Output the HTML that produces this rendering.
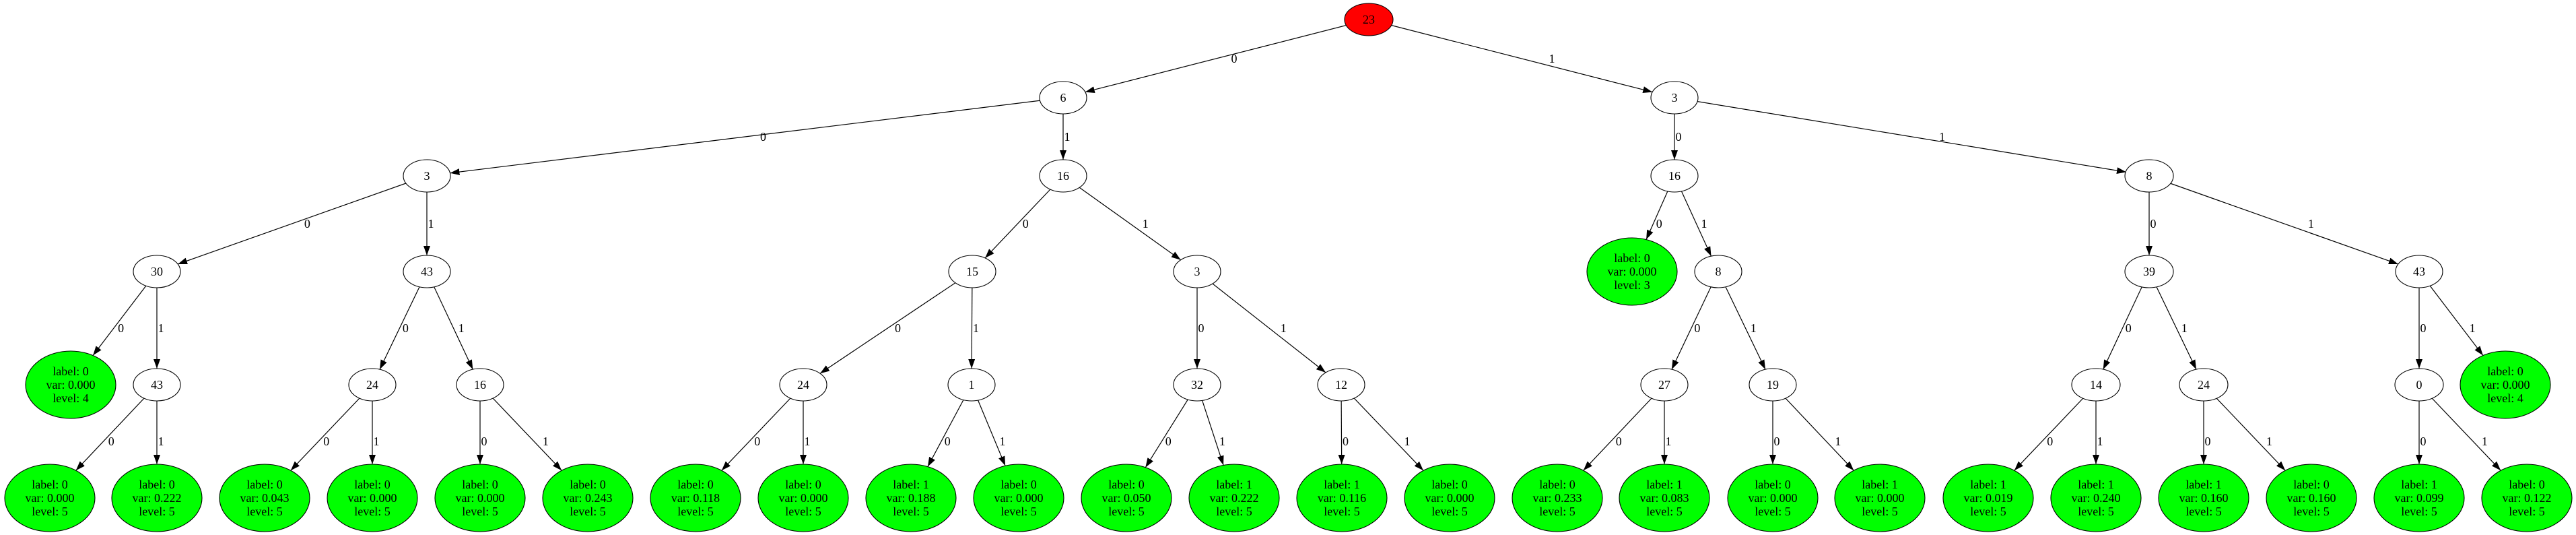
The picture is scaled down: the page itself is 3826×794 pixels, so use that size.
<!DOCTYPE html>
<html><head><meta charset="utf-8">
<style>
html,body{margin:0;padding:0;background:#fff;}
svg{display:block;font-family:"Liberation Serif","DejaVu Serif",serif;}
ellipse{stroke:#000;stroke-width:1.1;}
.n{fill:#fff;}
.g{fill:#00ff00;}
.r{fill:#ff0000;}
line{stroke:#000;stroke-width:1.2;}
text{font-size:18px;fill:#000;text-anchor:middle;}
</style></head>
<body>
<svg id="s" width="3826" height="794" viewBox="0 0 3826 794" xmlns="http://www.w3.org/2000/svg">
<defs><marker id="ah" markerWidth="14" markerHeight="10" refX="14" refY="5" orient="auto" markerUnits="userSpaceOnUse"><path d="M0,0 L14,5 L0,10 z" fill="#000"/></marker></defs>
<g id="edges">
<g class="e"><line x1="2033" y1="29" x2="1579" y2="145"/><text>0</text></g>
<g class="e"><line x1="2033" y1="29" x2="2487" y2="145"/><text>1</text></g>
<g class="e"><line x1="1579" y1="145" x2="634" y2="261"/><text>0</text></g>
<g class="e"><line x1="1579" y1="145" x2="1579" y2="261"/><text>1</text></g>
<g class="e"><line x1="2487" y1="145" x2="2487" y2="261"/><text>0</text></g>
<g class="e"><line x1="2487" y1="145" x2="3192" y2="261"/><text>1</text></g>
<g class="e"><line x1="634" y1="261" x2="233" y2="403"/><text>0</text></g>
<g class="e"><line x1="634" y1="261" x2="634" y2="403"/><text>1</text></g>
<g class="e"><line x1="1579" y1="261" x2="1444" y2="403"/><text>0</text></g>
<g class="e"><line x1="1579" y1="261" x2="1778" y2="403"/><text>1</text></g>
<g class="e" data-leaf="1"><line x1="2487" y1="261" x2="2424" y2="403"/><text>0</text></g>
<g class="e"><line x1="2487" y1="261" x2="2552" y2="403"/><text>1</text></g>
<g class="e"><line x1="3192" y1="261" x2="3192" y2="403"/><text>0</text></g>
<g class="e"><line x1="3192" y1="261" x2="3593" y2="403"/><text>1</text></g>
<g class="e" data-leaf="1"><line x1="233" y1="403" x2="105" y2="571"/><text>0</text></g>
<g class="e"><line x1="233" y1="403" x2="233" y2="571"/><text>1</text></g>
<g class="e"><line x1="634" y1="403" x2="553" y2="571"/><text>0</text></g>
<g class="e"><line x1="634" y1="403" x2="713" y2="571"/><text>1</text></g>
<g class="e"><line x1="1444" y1="403" x2="1193" y2="571"/><text>0</text></g>
<g class="e"><line x1="1444" y1="403" x2="1443" y2="571"/><text>1</text></g>
<g class="e"><line x1="1778" y1="403" x2="1778" y2="571"/><text>0</text></g>
<g class="e"><line x1="1778" y1="403" x2="1992" y2="571"/><text>1</text></g>
<g class="e"><line x1="2552" y1="403" x2="2472" y2="571"/><text>0</text></g>
<g class="e"><line x1="2552" y1="403" x2="2633" y2="571"/><text>1</text></g>
<g class="e"><line x1="3192" y1="403" x2="3113" y2="571"/><text>0</text></g>
<g class="e"><line x1="3192" y1="403" x2="3273" y2="571"/><text>1</text></g>
<g class="e"><line x1="3593" y1="403" x2="3593" y2="571"/><text>0</text></g>
<g class="e" data-leaf="1"><line x1="3593" y1="403" x2="3721" y2="571"/><text>1</text></g>
<g class="e" data-leaf="1"><line x1="233" y1="571" x2="74" y2="739"/><text>0</text></g>
<g class="e" data-leaf="1"><line x1="233" y1="571" x2="233" y2="739"/><text>1</text></g>
<g class="e" data-leaf="1"><line x1="553" y1="571" x2="393" y2="739"/><text>0</text></g>
<g class="e" data-leaf="1"><line x1="553" y1="571" x2="553" y2="739"/><text>1</text></g>
<g class="e" data-leaf="1"><line x1="713" y1="571" x2="713" y2="739"/><text>0</text></g>
<g class="e" data-leaf="1"><line x1="713" y1="571" x2="873" y2="739"/><text>1</text></g>
<g class="e" data-leaf="1"><line x1="1193" y1="571" x2="1033" y2="739"/><text>0</text></g>
<g class="e" data-leaf="1"><line x1="1193" y1="571" x2="1193" y2="739"/><text>1</text></g>
<g class="e" data-leaf="1"><line x1="1443" y1="571" x2="1353" y2="739"/><text>0</text></g>
<g class="e" data-leaf="1"><line x1="1443" y1="571" x2="1513" y2="739"/><text>1</text></g>
<g class="e" data-leaf="1"><line x1="1778" y1="571" x2="1673" y2="739"/><text>0</text></g>
<g class="e" data-leaf="1"><line x1="1778" y1="571" x2="1833" y2="739"/><text>1</text></g>
<g class="e" data-leaf="1"><line x1="1992" y1="571" x2="1993" y2="739"/><text>0</text></g>
<g class="e" data-leaf="1"><line x1="1992" y1="571" x2="2153" y2="739"/><text>1</text></g>
<g class="e" data-leaf="1"><line x1="2472" y1="571" x2="2313" y2="739"/><text>0</text></g>
<g class="e" data-leaf="1"><line x1="2472" y1="571" x2="2472" y2="739"/><text>1</text></g>
<g class="e" data-leaf="1"><line x1="2633" y1="571" x2="2633" y2="739"/><text>0</text></g>
<g class="e" data-leaf="1"><line x1="2633" y1="571" x2="2792" y2="739"/><text>1</text></g>
<g class="e" data-leaf="1"><line x1="3113" y1="571" x2="2953" y2="739"/><text>0</text></g>
<g class="e" data-leaf="1"><line x1="3113" y1="571" x2="3113" y2="739"/><text>1</text></g>
<g class="e" data-leaf="1"><line x1="3273" y1="571" x2="3273" y2="739"/><text>0</text></g>
<g class="e" data-leaf="1"><line x1="3273" y1="571" x2="3433" y2="739"/><text>1</text></g>
<g class="e" data-leaf="1"><line x1="3593" y1="571" x2="3593" y2="739"/><text>0</text></g>
<g class="e" data-leaf="1"><line x1="3593" y1="571" x2="3753" y2="739"/><text>1</text></g>
</g>

<!-- internal nodes -->
<ellipse class="r" cx="2033" cy="29" rx="36" ry="24"/><text x="2033" y="35">23</text>
<ellipse class="n" cx="1579" cy="145" rx="35" ry="24"/><text x="1579" y="151">6</text>
<ellipse class="n" cx="2487" cy="145" rx="35" ry="24"/><text x="2487" y="151">3</text>
<ellipse class="n" cx="634" cy="261" rx="35" ry="24"/><text x="634" y="267">3</text>
<ellipse class="n" cx="1579" cy="261" rx="35" ry="24"/><text x="1579" y="267">16</text>
<ellipse class="n" cx="2487" cy="261" rx="35" ry="24"/><text x="2487" y="267">16</text>
<ellipse class="n" cx="3192" cy="261" rx="36" ry="24"/><text x="3192" y="267">8</text>
<ellipse class="n" cx="233" cy="403" rx="35" ry="24"/><text x="233" y="409">30</text>
<ellipse class="n" cx="634" cy="403" rx="35" ry="24"/><text x="634" y="409">43</text>
<ellipse class="n" cx="1444" cy="403" rx="35" ry="24"/><text x="1444" y="409">15</text>
<ellipse class="n" cx="1778" cy="403" rx="35" ry="24"/><text x="1778" y="409">3</text>
<ellipse class="n" cx="2552" cy="403" rx="35" ry="24"/><text x="2552" y="409">8</text>
<ellipse class="n" cx="3192" cy="403" rx="36" ry="24"/><text x="3192" y="409">39</text>
<ellipse class="n" cx="3593" cy="403" rx="35" ry="24"/><text x="3593" y="409">43</text>
<ellipse class="n" cx="233" cy="571" rx="35" ry="24"/><text x="233" y="577">43</text>
<ellipse class="n" cx="553" cy="571" rx="35" ry="24"/><text x="553" y="577">24</text>
<ellipse class="n" cx="713" cy="571" rx="35" ry="24"/><text x="713" y="577">16</text>
<ellipse class="n" cx="1193" cy="571" rx="35" ry="24"/><text x="1193" y="577">24</text>
<ellipse class="n" cx="1443" cy="571" rx="35" ry="24"/><text x="1443" y="577">1</text>
<ellipse class="n" cx="1778" cy="571" rx="35" ry="24"/><text x="1778" y="577">32</text>
<ellipse class="n" cx="1992" cy="571" rx="35" ry="24"/><text x="1992" y="577">12</text>
<ellipse class="n" cx="2472" cy="571" rx="35" ry="24"/><text x="2472" y="577">27</text>
<ellipse class="n" cx="2633" cy="571" rx="35" ry="24"/><text x="2633" y="577">19</text>
<ellipse class="n" cx="3113" cy="571" rx="36" ry="24"/><text x="3113" y="577">14</text>
<ellipse class="n" cx="3273" cy="571" rx="36" ry="24"/><text x="3273" y="577">24</text>
<ellipse class="n" cx="3593" cy="571" rx="36" ry="24"/><text x="3593" y="577">0</text>

<!-- leaves -->
<g><ellipse class="g" cx="2424" cy="403" rx="67" ry="50"/><text x="2424" y="389">label: 0</text><text x="2424" y="409">var: 0.000</text><text x="2424" y="429">level: 3</text></g>
<g><ellipse class="g" cx="105" cy="571" rx="67" ry="50"/><text x="105" y="557">label: 0</text><text x="105" y="577">var: 0.000</text><text x="105" y="597">level: 4</text></g>
<g><ellipse class="g" cx="3721" cy="571" rx="67" ry="50"/><text x="3721" y="557">label: 0</text><text x="3721" y="577">var: 0.000</text><text x="3721" y="597">level: 4</text></g>

<g><ellipse class="g" cx="74" cy="739" rx="67" ry="50"/><text x="74" y="725">label: 0</text><text x="74" y="745">var: 0.000</text><text x="74" y="765">level: 5</text></g>
<g><ellipse class="g" cx="233" cy="739" rx="67" ry="50"/><text x="233" y="725">label: 0</text><text x="233" y="745">var: 0.222</text><text x="233" y="765">level: 5</text></g>
<g><ellipse class="g" cx="393" cy="739" rx="67" ry="50"/><text x="393" y="725">label: 0</text><text x="393" y="745">var: 0.043</text><text x="393" y="765">level: 5</text></g>
<g><ellipse class="g" cx="553" cy="739" rx="67" ry="50"/><text x="553" y="725">label: 0</text><text x="553" y="745">var: 0.000</text><text x="553" y="765">level: 5</text></g>
<g><ellipse class="g" cx="713" cy="739" rx="67" ry="50"/><text x="713" y="725">label: 0</text><text x="713" y="745">var: 0.000</text><text x="713" y="765">level: 5</text></g>
<g><ellipse class="g" cx="873" cy="739" rx="67" ry="50"/><text x="873" y="725">label: 0</text><text x="873" y="745">var: 0.243</text><text x="873" y="765">level: 5</text></g>
<g><ellipse class="g" cx="1033" cy="739" rx="67" ry="50"/><text x="1033" y="725">label: 0</text><text x="1033" y="745">var: 0.118</text><text x="1033" y="765">level: 5</text></g>
<g><ellipse class="g" cx="1193" cy="739" rx="67" ry="50"/><text x="1193" y="725">label: 0</text><text x="1193" y="745">var: 0.000</text><text x="1193" y="765">level: 5</text></g>
<g><ellipse class="g" cx="1353" cy="739" rx="67" ry="50"/><text x="1353" y="725">label: 1</text><text x="1353" y="745">var: 0.188</text><text x="1353" y="765">level: 5</text></g>
<g><ellipse class="g" cx="1513" cy="739" rx="67" ry="50"/><text x="1513" y="725">label: 0</text><text x="1513" y="745">var: 0.000</text><text x="1513" y="765">level: 5</text></g>
<g><ellipse class="g" cx="1673" cy="739" rx="67" ry="50"/><text x="1673" y="725">label: 0</text><text x="1673" y="745">var: 0.050</text><text x="1673" y="765">level: 5</text></g>
<g><ellipse class="g" cx="1833" cy="739" rx="67" ry="50"/><text x="1833" y="725">label: 1</text><text x="1833" y="745">var: 0.222</text><text x="1833" y="765">level: 5</text></g>
<g><ellipse class="g" cx="1993" cy="739" rx="67" ry="50"/><text x="1993" y="725">label: 1</text><text x="1993" y="745">var: 0.116</text><text x="1993" y="765">level: 5</text></g>
<g><ellipse class="g" cx="2153" cy="739" rx="67" ry="50"/><text x="2153" y="725">label: 0</text><text x="2153" y="745">var: 0.000</text><text x="2153" y="765">level: 5</text></g>
<g><ellipse class="g" cx="2313" cy="739" rx="67" ry="50"/><text x="2313" y="725">label: 0</text><text x="2313" y="745">var: 0.233</text><text x="2313" y="765">level: 5</text></g>
<g><ellipse class="g" cx="2472" cy="739" rx="67" ry="50"/><text x="2472" y="725">label: 1</text><text x="2472" y="745">var: 0.083</text><text x="2472" y="765">level: 5</text></g>
<g><ellipse class="g" cx="2633" cy="739" rx="67" ry="50"/><text x="2633" y="725">label: 0</text><text x="2633" y="745">var: 0.000</text><text x="2633" y="765">level: 5</text></g>
<g><ellipse class="g" cx="2792" cy="739" rx="67" ry="50"/><text x="2792" y="725">label: 1</text><text x="2792" y="745">var: 0.000</text><text x="2792" y="765">level: 5</text></g>
<g><ellipse class="g" cx="2953" cy="739" rx="67" ry="50"/><text x="2953" y="725">label: 1</text><text x="2953" y="745">var: 0.019</text><text x="2953" y="765">level: 5</text></g>
<g><ellipse class="g" cx="3113" cy="739" rx="67" ry="50"/><text x="3113" y="725">label: 1</text><text x="3113" y="745">var: 0.240</text><text x="3113" y="765">level: 5</text></g>
<g><ellipse class="g" cx="3273" cy="739" rx="67" ry="50"/><text x="3273" y="725">label: 1</text><text x="3273" y="745">var: 0.160</text><text x="3273" y="765">level: 5</text></g>
<g><ellipse class="g" cx="3433" cy="739" rx="67" ry="50"/><text x="3433" y="725">label: 0</text><text x="3433" y="745">var: 0.160</text><text x="3433" y="765">level: 5</text></g>
<g><ellipse class="g" cx="3593" cy="739" rx="67" ry="50"/><text x="3593" y="725">label: 1</text><text x="3593" y="745">var: 0.099</text><text x="3593" y="765">level: 5</text></g>
<g><ellipse class="g" cx="3753" cy="739" rx="67" ry="50"/><text x="3753" y="725">label: 0</text><text x="3753" y="745">var: 0.122</text><text x="3753" y="765">level: 5</text></g>
</svg>
<script>
(function(){
  var gs=document.querySelectorAll('g.e');
  for(var i=0;i<gs.length;i++){
    var g=gs[i], l=g.querySelector('line'), t=g.querySelector('text');
    var x1=+l.getAttribute('x1'),y1=+l.getAttribute('y1'),x2=+l.getAttribute('x2'),y2=+l.getAttribute('y2');
    var leaf=g.getAttribute('data-leaf')==='1';
    var rx=leaf?67:35, ry=leaf?50:24;
    var dx=x1-x2, dy=y1-y2;
    var k=1/Math.sqrt((dx/rx)*(dx/rx)+(dy/ry)*(dy/ry));
    l.setAttribute('x2',(x2+dx*k).toFixed(1));
    l.setAttribute('y2',(y2+dy*k).toFixed(1));
    l.setAttribute('marker-end','url(#ah)');
    var my=(y1+y2)/2, mx=(x1+x2)/2;
    var r=Math.abs(x2-x1)/(y2-y1);
    var off;
    if(Math.abs(x2-x1)<3) off=6;
    else if(x2<x1) off=Math.min(6+6*r,27);
    else off=Math.min(6+12*r,45);
    t.setAttribute('x',(mx+off).toFixed(1));
    t.setAttribute('y',(my+6).toFixed(1));
  }
})();
</script>
</body></html>
